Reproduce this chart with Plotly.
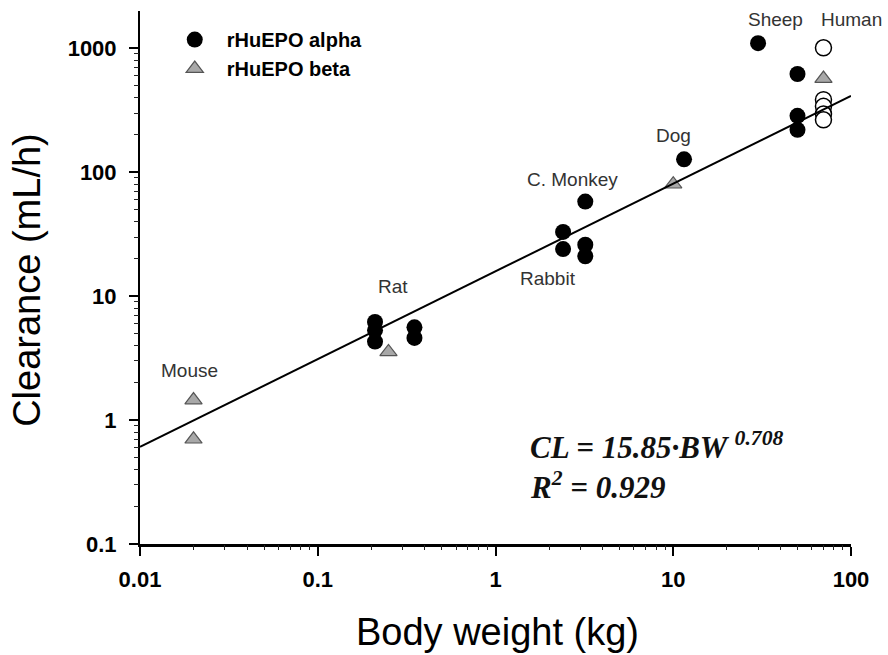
import math
import plotly.graph_objects as go

# rHuEPO alpha (filled circles): body weight (kg), clearance (mL/h)
alpha_bw = [0.21, 0.21, 0.21, 0.35, 0.35, 2.4, 2.4, 3.2, 3.2, 3.2, 11.5, 30, 50, 50, 50]
alpha_cl = [6.2, 5.3, 4.3, 5.6, 4.6, 33, 24, 58, 26, 21, 127, 1100, 620, 285, 220]

# rHuEPO beta (grey triangles)
beta_bw = [0.02, 0.02, 0.25, 10, 70]
beta_cl = [1.45, 0.70, 3.55, 80, 570]

# Human data (open circles)
human_bw = [70, 70, 70, 70, 70]
human_cl = [1010, 385, 340, 295, 265]

# Allometric fit CL = a * BW^b
fit_a = 15.85
fit_b = 0.708
fit_r2 = 0.929
fit_bw = [0.01, 100]
fit_cl = [fit_a * bw ** fit_b for bw in fit_bw]

# Species labels
species = ["Mouse", "Rat", "C. Monkey", "Rabbit", "Dog", "Sheep", "Human"]
species_bw = [0.0189, 0.266, 2.71, 1.97, 10.0, 37.5, 100]
species_cl = [2.53, 12.0, 88, 13.9, 199, 1700, 1700]

x_ticks = [0.01, 0.1, 1, 10, 100]
x_ticktext = ["0.01", "0.1", "1", "10", "100"]
y_ticks = [0.1, 1, 10, 100, 1000]
y_ticktext = ["0.1", "1", "10", "100", "1000"]

SANS = "Arial, Liberation Sans, sans-serif"
SERIF = "Times New Roman, Liberation Serif, serif"

X_RANGE = [-2, 2]
Y_RANGE = [-1, math.log10(2000)]

# minor tick positions (2..9 within each decade)
x_minor = [m * 10 ** e for e in range(-2, 2) for m in range(2, 10)]
y_minor = [m * 10 ** e for e in range(-1, 4) for m in range(2, 10) if m * 10 ** e < 2000]

fig = go.Figure()

# fit line lives on the overlay axes (same ranges) that carry the minor ticks
fig.add_trace(go.Scatter(
    x=fit_bw, y=fit_cl, mode="lines", xaxis="x2", yaxis="y2",
    line=dict(color="black", width=2),
    showlegend=False, hoverinfo="skip",
))

fig.add_trace(go.Scatter(
    x=human_bw, y=human_cl, mode="markers",
    marker=dict(symbol="circle", size=16, color="white",
                line=dict(color="black", width=1.5)),
    showlegend=False,
))

fig.add_trace(go.Scatter(
    x=alpha_bw, y=alpha_cl, mode="markers", name="rHuEPO alpha",
    marker=dict(symbol="circle", size=16, color="black", line=dict(width=0)),
))

fig.add_trace(go.Scatter(
    x=beta_bw, y=beta_cl, mode="markers", name="rHuEPO beta",
    marker=dict(symbol="triangle-up", size=15, color="#a8a8a8",
                line=dict(color="#555555", width=1.2)),
))

major_common = dict(
    type="log",
    showline=True, linecolor="black",
    ticks="outside", ticklen=9, tickwidth=1.6, tickcolor="black",
    tickmode="array",
    tickfont=dict(family=SANS, size=22, color="black", weight="bold"),
    showgrid=False, zeroline=False,
)

minor_common = dict(
    type="log", showline=False, showgrid=False, zeroline=False,
    ticks="outside", ticklen=5, tickwidth=1.3, tickcolor="#222222",
    tickmode="array", showticklabels=False,
)

fig.update_layout(
    xaxis=dict(**major_common, range=X_RANGE, linewidth=2.5,
               tickvals=x_ticks, ticktext=x_ticktext, ticklabelstandoff=5),
    yaxis=dict(**major_common, range=Y_RANGE, linewidth=2,
               tickvals=y_ticks, ticktext=y_ticktext, ticklabelstandoff=8),
    xaxis2=dict(**minor_common, range=X_RANGE, tickvals=x_minor,
                overlaying="x", anchor="y2", side="bottom"),
    yaxis2=dict(**minor_common, range=Y_RANGE, tickvals=y_minor,
                overlaying="y", anchor="x2", side="left"),
)

annotations = []
for name, bw, cl in zip(species, species_bw, species_cl):
    annotations.append(dict(
        x=math.log10(bw), y=math.log10(cl), xref="x", yref="y",
        text=name, showarrow=False, xanchor="center", yanchor="middle",
        font=dict(family=SANS, size=19, color="#333333"),
    ))

# Fit equation and R^2
eq_font = dict(family=SERIF, size=31, color="#111111", weight="bold", style="italic")
annotations.append(dict(
    x=math.log10(1.52), y=-0.205, xref="x", yref="y",
    text=f"CL = {fit_a}\u00b7BW <sup>{fit_b}</sup>",
    showarrow=False, xanchor="left", yanchor="middle", font=eq_font,
))
annotations.append(dict(
    x=math.log10(1.52), y=-0.53, xref="x", yref="y",
    text=f"R<sup>2</sup> = {fit_r2}",
    showarrow=False, xanchor="left", yanchor="middle", font=eq_font,
))

# Axis titles
annotations.append(dict(
    x=0.503, y=-0.165, xref="paper", yref="paper",
    text="Body weight (kg)", showarrow=False,
    xanchor="center", yanchor="middle",
    font=dict(family=SANS, size=38, color="black"),
))
annotations.append(dict(
    x=-0.158, y=0.495, xref="paper", yref="paper",
    text="Clearance (mL/h)", showarrow=False, textangle=-90,
    xanchor="center", yanchor="middle",
    font=dict(family=SANS, size=38, color="black"),
))

fig.update_layout(
    width=888, height=655,
    margin=dict(l=140, r=37, t=11, b=111),
    paper_bgcolor="white", plot_bgcolor="white",
    annotations=annotations,
    legend=dict(
        x=0.032, y=0.983, xanchor="left", yanchor="top",
        bgcolor="rgba(0,0,0,0)", borderwidth=0,
        font=dict(family=SANS, size=20, color="black", weight="bold"),
        itemwidth=54, tracegroupgap=0,
    ),
)

fig.write_html("out.html")
